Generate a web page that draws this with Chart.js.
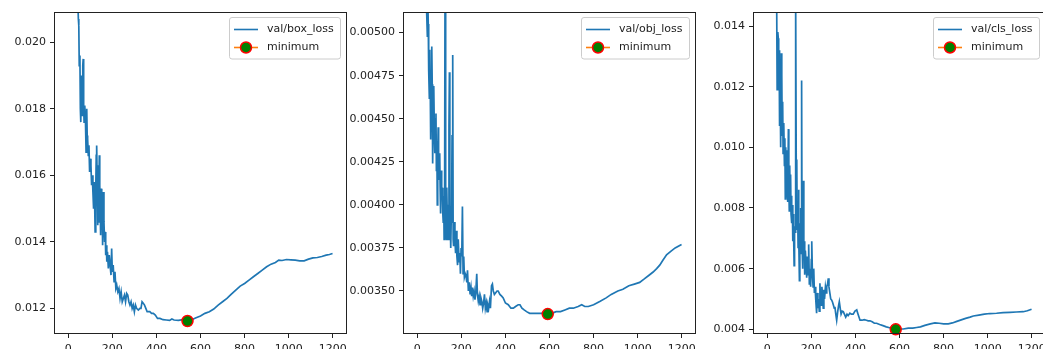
<!DOCTYPE html>
<html><head><meta charset="utf-8">
<script src="https://cdn.jsdelivr.net/npm/chart.js@4.4.1/dist/chart.umd.min.js"></script>
<style>
html,body{margin:0;padding:0;background:#fff;}
#wrap{position:relative;width:1043px;height:349px;overflow:hidden;background:#fff;}
canvas{position:absolute;top:0;}
</style></head><body>
<div id="wrap">
<canvas id="c1" width="354" height="349"></canvas>
<canvas id="c2" width="364" height="349"></canvas>
<canvas id="c3" width="354" height="349"></canvas>
</div>
<script>
// ---------- data (epoch, value) ----------
const epochTicks = [0, 200, 400, 600, 800, 1000, 1200];

const boxLabel = 'val/box_loss';
const boxTicks = [0.012, 0.014, 0.016, 0.018, 0.020];
const boxRange = [0.01126, 0.02088];
const boxMinimum = [541, 0.01162];
const boxLossPoints = [[0,0.0350],[10,0.0300],[20,0.0265],[30,0.0240],[40,0.0220],[46,0.0207],[48,0.0205],[50,0.0193],[53,0.0196],[55,0.0180],[57,0.0176],[60,0.0190],[63,0.0178],[66,0.0193],[68,0.0195],[70,0.0181],[72,0.0176],[75,0.0181],[78,0.0177],[81,0.0167],[84,0.0180],[86,0.0172],[88,0.0171],[91,0.0166],[94,0.0169],[97,0.0161],[100,0.0165],[103,0.0163],[106,0.0157],[109,0.0160],[112,0.0155],[115,0.0150],[118,0.0158],[120,0.0151],[122,0.0143],[125,0.0156],[127,0.0166],[129,0.0169],[131,0.0160],[133,0.0145],[135,0.0163],[137,0.0146],[139,0.0154],[141,0.0166],[143,0.0157],[145,0.0150],[147,0.0142],[150,0.0156],[152,0.0145],[154,0.0150],[156,0.0139],[159,0.0155],[162,0.0146],[165,0.0140],[168,0.0143],[170,0.0136],[173,0.0139],[175,0.0134],[178,0.0137],[182,0.0132],[186,0.0136],[190,0.0133],[194,0.0130],[197,0.0138],[200,0.0131],[204,0.0133],[208,0.0128],[212,0.0131],[216,0.0126],[220,0.0127],[225,0.0125],[230,0.0126],[235,0.0123],[240,0.0125],[245,0.0122],[250,0.0123],[255,0.0124],[260,0.0122],[265,0.01245],[270,0.0124],[275,0.0122],[280,0.0121],[285,0.0122],[290,0.0120],[295,0.0121],[300,0.0119],[305,0.0121],[310,0.0120],[318,0.01195],[325,0.0120],[330,0.0120],[335,0.0122],[341,0.01215],[346,0.0121],[352,0.0120],[358,0.0119],[363,0.0119],[370,0.0119],[378,0.01185],[386,0.01185],[395,0.0118],[405,0.0117],[416,0.0117],[430,0.01166],[445,0.01165],[460,0.01164],[470,0.01168],[480,0.01165],[500,0.01164],[520,0.01166],[541,0.01162],[560,0.01166],[580,0.01172],[600,0.01177],[620,0.01185],[640,0.0119],[660,0.01198],[680,0.0121],[700,0.0122],[720,0.0123],[740,0.01243],[760,0.01255],[780,0.01267],[800,0.01275],[820,0.01285],[840,0.01295],[860,0.01305],[880,0.01315],[900,0.01325],[920,0.01333],[940,0.01338],[955,0.01345],[970,0.01344],[990,0.01347],[1010,0.01346],[1030,0.01345],[1050,0.01343],[1070,0.01343],[1090,0.01348],[1110,0.01352],[1130,0.01353],[1150,0.01356],[1170,0.0136],[1185,0.01362],[1199,0.01365]];

const objLabel = 'val/obj_loss';
const objTicks = [0.0035, 0.00375, 0.004, 0.00425, 0.0045, 0.00475, 0.005];
const objRange = [0.003256, 0.005114];
const objMinimum = [592, 0.003366];
const objLossPoints = [[0,0.0075],[10,0.0068],[20,0.0062],[30,0.0057],[40,0.0053],[43,0.00511],[46,0.00498],[48,0.0052],[50,0.00505],[52,0.00478],[55,0.00462],[57,0.00490],[59,0.00470],[61,0.00438],[63,0.0046],[66,0.00492],[68,0.0047],[70,0.00424],[72,0.00445],[74,0.00462],[76,0.00469],[78,0.0044],[80,0.0043],[82,0.0045],[85,0.00453],[87,0.0042],[89,0.00437],[91,0.0040],[93,0.0043],[95,0.00445],[97,0.00425],[100,0.00415],[102,0.0043],[104,0.0041],[106,0.00395],[108,0.0042],[111,0.00403],[113,0.0041],[116,0.00395],[118,0.0039],[120,0.00405],[122,0.0038],[124,0.0039],[126,0.0052],[128,0.0040],[130,0.0039],[132,0.0038],[134,0.0041],[136,0.00395],[138,0.0040],[141,0.0038],[144,0.00445],[146,0.00477],[148,0.0040],[150,0.0039],[152,0.00375],[154,0.0039],[156,0.0040],[158,0.0044],[161,0.00487],[163,0.0038],[165,0.00376],[168,0.0039],[171,0.0038],[174,0.00372],[177,0.00385],[180,0.0037],[183,0.00365],[186,0.0038],[190,0.00367],[193,0.00372],[196,0.0036],[199,0.00375],[202,0.0037],[205,0.00399],[208,0.0036],[211,0.0037],[214,0.00358],[218,0.0036],[221,0.00359],[225,0.00355],[228,0.00362],[232,0.0035],[236,0.00355],[240,0.00348],[244,0.00352],[247,0.00347],[250,0.00352],[254,0.00347],[258,0.0035],[262,0.00345],[266,0.0035],[270,0.0036],[273,0.00348],[277,0.00344],[281,0.00347],[285,0.00342],[289,0.00346],[293,0.00344],[297,0.0034],[301,0.00343],[305,0.00348],[309,0.0034],[313,0.00343],[317,0.00338],[320,0.00342],[324,0.0034],[328,0.00344],[332,0.0034],[337,0.00353],[341,0.00354],[345,0.0035],[350,0.00348],[356,0.00349],[362,0.0035],[367,0.0035],[375,0.00348],[383,0.00347],[390,0.00346],[400,0.00343],[413,0.00342],[425,0.0034],[436,0.0034],[446,0.00341],[458,0.00342],[466,0.00342],[475,0.0034],[485,0.00339],[496,0.00338],[510,0.00337],[530,0.00337],[550,0.00337],[570,0.00337],[592,0.003368],[610,0.00337],[630,0.00338],[650,0.00338],[670,0.00339],[690,0.0034],[708,0.0034],[730,0.00341],[746,0.00342],[760,0.00341],[776,0.00341],[800,0.00342],[830,0.00344],[857,0.00346],[880,0.00348],[910,0.0035],[933,0.00351],[960,0.00353],[985,0.00354],[1009,0.00355],[1030,0.00357],[1050,0.00359],[1070,0.00361],[1086,0.00363],[1100,0.00365],[1115,0.00368],[1131,0.00371],[1150,0.00373],[1170,0.00375],[1199,0.00377]];

const clsLabel = 'val/cls_loss';
const clsTicks = [0.004, 0.006, 0.008, 0.010, 0.012, 0.014];
const clsRange = [0.003878, 0.014429];
const clsMinimum = [583, 0.0040];
const clsLossPoints = [[0,0.030],[10,0.026],[20,0.022],[30,0.019],[40,0.0165],[43,0.0146],[45,0.0119],[48,0.0138],[50,0.0136],[52,0.0122],[54,0.0132],[56,0.0107],[58,0.0128],[60,0.0112],[62,0.0100],[64,0.0131],[66,0.0124],[68,0.0104],[70,0.0115],[72,0.0098],[74,0.0108],[76,0.0108],[78,0.0094],[80,0.0103],[82,0.0083],[84,0.0100],[86,0.0090],[88,0.0099],[90,0.0086],[92,0.0095],[94,0.0082],[96,0.0106],[98,0.0088],[100,0.0079],[102,0.0094],[104,0.0084],[106,0.0091],[108,0.0078],[110,0.0084],[112,0.0075],[114,0.0081],[116,0.0069],[118,0.0078],[120,0.0070],[122,0.0061],[124,0.0074],[126,0.0072],[128,0.0086],[130,0.0150],[132,0.0085],[134,0.0096],[136,0.0073],[138,0.0080],[140,0.0067],[142,0.0086],[144,0.0070],[146,0.0056],[148,0.0075],[150,0.0069],[152,0.0080],[154,0.0065],[156,0.0122],[158,0.0068],[160,0.0074],[162,0.0060],[164,0.0089],[166,0.0064],[168,0.0069],[170,0.0058],[173,0.0066],[176,0.0062],[179,0.0057],[182,0.0064],[185,0.0058],[188,0.0068],[191,0.0055],[194,0.0060],[197,0.0054],[200,0.0063],[202,0.0069],[205,0.0058],[208,0.0054],[211,0.0060],[214,0.0052],[217,0.0054],[220,0.0050],[224,0.00453],[227,0.0052],[230,0.0047],[233,0.0050],[236,0.0046],[239,0.00552],[242,0.0049],[245,0.0048],[248,0.0054],[251,0.0051],[254,0.0047],[257,0.0053],[260,0.0050],[264,0.0054],[268,0.0052],[270,0.0054],[274,0.0055],[277,0.00568],[280,0.0054],[284,0.0052],[288,0.0050],[292,0.00497],[296,0.0049],[300,0.0048],[304,0.0047],[307,0.00474],[311,0.0045],[315,0.0043],[320,0.0046],[324,0.0048],[327,0.00491],[331,0.0047],[335,0.0045],[340,0.0046],[345,0.00458],[350,0.0045],[356,0.0044],[362,0.0045],[367,0.00445],[375,0.00453],[382,0.0045],[390,0.0045],[398,0.0046],[406,0.00464],[412,0.0045],[421,0.0043],[430,0.0043],[440,0.00432],[450,0.0043],[458,0.00428],[466,0.00428],[476,0.00425],[486,0.0042],[496,0.0042],[510,0.00416],[525,0.00412],[540,0.00408],[555,0.00405],[570,0.00402],[583,0.00401],[600,0.00401],[617,0.00401],[640,0.00404],[660,0.00404],[678,0.00406],[695,0.00408],[715,0.00413],[740,0.00418],[761,0.00421],[780,0.0042],[800,0.00418],[821,0.00418],[840,0.00421],[860,0.00426],[880,0.00431],[900,0.00436],[920,0.0044],[935,0.00444],[960,0.00447],[985,0.0045],[1010,0.00452],[1040,0.00453],[1070,0.00455],[1101,0.00456],[1130,0.00457],[1161,0.00458],[1180,0.00461],[1199,0.00466]];

// ---------- rendering ----------
Chart.defaults.font.family = '"DejaVu Sans", sans-serif';
Chart.defaults.font.size = 11;
Chart.defaults.color = '#222';

const TEXT = '#222';

function rrect(ctx, x, y, w, h, r) {
  ctx.beginPath();
  ctx.moveTo(x + r, y);
  ctx.lineTo(x + w - r, y);
  ctx.arcTo(x + w, y, x + w, y + r, r);
  ctx.lineTo(x + w, y + h - r);
  ctx.arcTo(x + w, y + h, x + w - r, y + h, r);
  ctx.lineTo(x + r, y + h);
  ctx.arcTo(x, y + h, x, y + h - r, r);
  ctx.lineTo(x, y + r);
  ctx.arcTo(x, y, x + r, y, r);
  ctx.closePath();
}

const frameLegend = {
  id: 'frameLegend',
  afterDraw(chart, args, opts) {
    const ctx = chart.ctx, ca = chart.chartArea;
    ctx.save();
    // full axes frame
    ctx.strokeStyle = TEXT; ctx.lineWidth = 1;
    ctx.strokeRect(ca.left - 0.5, ca.top - 0.5, ca.right - ca.left + 1, ca.bottom - ca.top + 1);
    // legend
    ctx.font = '11px "DejaVu Sans"';
    const tw = Math.max(ctx.measureText(opts.label).width, ctx.measureText('minimum').width);
    const padL = 5, hl = 24, gap = 9, padR = 6;
    const w = padL + hl + gap + tw + padR, h = 41.5;
    const right = ca.right - 6, left = Math.round(right - w), top = ca.top + 4;
    rrect(ctx, left + 0.5, top + 0.5, right - left, h, 2.5);
    ctx.fillStyle = 'rgba(255,255,255,0.8)'; ctx.fill();
    ctx.strokeStyle = '#cccccc'; ctx.lineWidth = 1; ctx.stroke();
    const y1 = top + 12.5, y2 = top + 30.5;
    const hx0 = left + padL, hx1 = hx0 + hl;
    ctx.lineWidth = 1.6;
    ctx.strokeStyle = '#1f77b4';
    ctx.beginPath(); ctx.moveTo(hx0, y1); ctx.lineTo(hx1, y1); ctx.stroke();
    ctx.strokeStyle = '#ff7f0e';
    ctx.beginPath(); ctx.moveTo(hx0, y2); ctx.lineTo(hx1, y2); ctx.stroke();
    ctx.beginPath(); ctx.arc((hx0 + hx1) / 2, y2, 5.5, 0, Math.PI * 2);
    ctx.fillStyle = 'green'; ctx.fill();
    ctx.strokeStyle = 'red'; ctx.lineWidth = 1.5; ctx.stroke();
    ctx.fillStyle = TEXT; ctx.textBaseline = 'middle'; ctx.textAlign = 'left';
    ctx.fillText(opts.label, hx1 + gap, y1);
    ctx.fillText('minimum', hx1 + gap, y2);
    ctx.restore();
  }
};

function makePanel(id, axesLeft, yW, points, minimum, range, yTicks, decimals, label) {
  const cv = document.getElementById(id);
  cv.style.left = (axesLeft - yW) + 'px';
  return new Chart(cv, {
    type: 'line',
    data: {
      datasets: [
        {
          label: label,
          data: points.map(p => ({x: p[0], y: p[1]})),
          borderColor: '#1f77b4', borderWidth: 1.7,
          pointRadius: 0, tension: 0, fill: false, clip: 0, order: 1
        },
        {
          label: 'minimum',
          data: [{x: minimum[0], y: minimum[1]}],
          showLine: false, borderColor: '#ff7f0e',
          pointRadius: 5.5, pointBackgroundColor: 'green',
          pointBorderColor: 'red', pointBorderWidth: 1.5,
          clip: false, order: 0
        }
      ]
    },
    options: {
      responsive: false, animation: false, devicePixelRatio: 1,
      layout: {padding: {left: 0, right: 8, top: 13, bottom: 0}},
      events: [],
      plugins: {legend: {display: false}, tooltip: {enabled: false}, frameLegend: {label: label}},
      scales: {
        x: {
          type: 'linear', min: -60, max: 1260,
          afterBuildTicks: s => { s.ticks = epochTicks.map(v => ({value: v})); },
          afterFit: s => { s.height = 16; },
          grid: {drawOnChartArea: false, drawTicks: true, tickLength: 5, color: TEXT, lineWidth: 1},
          border: {display: false},
          ticks: {padding: 5, color: TEXT, maxRotation: 0, autoSkip: false, callback: v => String(v)}
        },
        y: {
          type: 'linear', min: range[0], max: range[1],
          afterBuildTicks: s => { s.ticks = yTicks.map(v => ({value: v})); },
          afterFit: s => { s.width = yW; },
          grid: {drawOnChartArea: false, drawTicks: true, tickLength: 5, color: TEXT, lineWidth: 1},
          border: {display: false},
          ticks: {padding: 4, color: TEXT, autoSkip: false, callback: v => v.toFixed(decimals)}
        }
      }
    },
    plugins: [frameLegend]
  });
}

makePanel('c1', 55, 55, boxLossPoints, boxMinimum, boxRange, boxTicks, 3, boxLabel);
makePanel('c2', 404, 65, objLossPoints, objMinimum, objRange, objTicks, 5, objLabel);
makePanel('c3', 754, 55, clsLossPoints, clsMinimum, clsRange, clsTicks, 3, clsLabel);
</script>
</body></html>
